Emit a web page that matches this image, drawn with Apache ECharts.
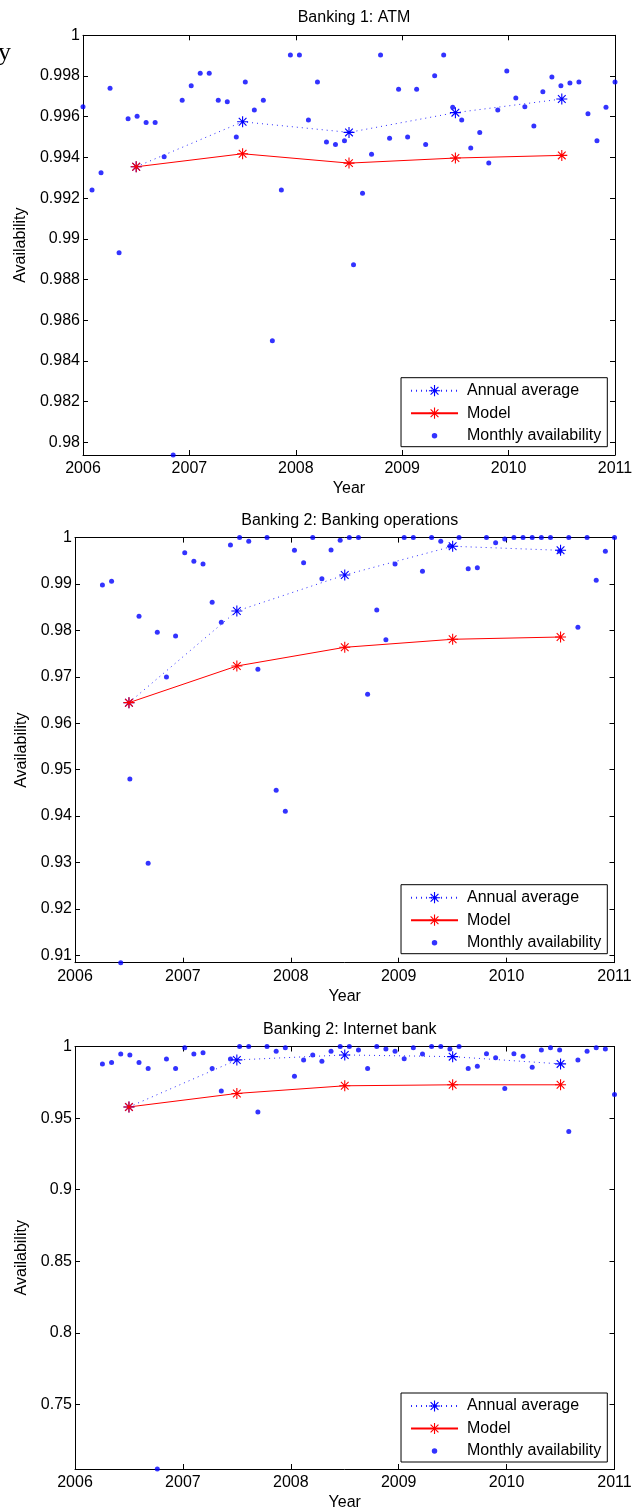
<!DOCTYPE html>
<html>
<head>
<meta charset="utf-8">
<script src="https://cdn.jsdelivr.net/npm/echarts@6/dist/echarts.min.js"></script>
<style>
  html, body { margin: 0; padding: 0; background: #fff; }
  #main { width: 640px; height: 1512px; }
</style>
</head>
<body>
<div id="main"></div>
<script>
// 数据：可用率
const years = [2006, 2007, 2008, 2009, 2010];
const yearTicks = [2006, 2007, 2008, 2009, 2010, 2011];

// Banking 1: ATM
const atmMonthly = [
  0.99649, 0.99240, 0.99325, 0.99740, 0.98932, 0.99590, 0.99602, 0.99572, 0.99572, 0.99403, 0.97938, 0.99681,
  0.99752, 0.99813, 0.99813, 0.99681, 0.99674, 0.99500, 0.99771, 0.99633, 0.99681, 0.98499, 0.99240, 0.99903,
  0.99903, 0.99584, 0.99771, 0.99476, 0.99464, 0.99482, 0.98873, 0.99224, 0.99415, 0.99903, 0.99494, 0.99735,
  0.99500, 0.99735, 0.99464, 0.99801, 0.99903, 0.99646, 0.99584, 0.99446, 0.99523, 0.99372, 0.99633, 0.99825,
  0.99692, 0.99649, 0.99554, 0.99723, 0.99795, 0.99752, 0.99766, 0.99771, 0.99615, 0.99482, 0.99646, 0.99771
];
const atmAnnual = [0.99354, 0.99575, 0.99523, 0.99620, 0.99687];
const atmModel = [0.99354, 0.99418, 0.99372, 0.99397, 0.99410];
const atmTicks = [0.98, 0.982, 0.984, 0.986, 0.988, 0.99, 0.992, 0.994, 0.996, 0.998, 1];

// Banking 2: Banking operations
const opsMonthly = [
  null, null, null, 0.98979, 0.99058, 0.90840, 0.94799, 0.98304, 0.92982, 0.97959, 0.96996, 0.97880,
  0.99675, 0.99489, 0.99431, 0.98606, 0.98175, 0.99841, 1.0, 0.99920, 0.97162, 1.0, 0.94555, 0.94103,
  0.99726, 0.99459, 1.0, 0.99114, 0.99733, 0.99942, 1.0, 1.0, 0.96624, 0.98440, 0.97800, 0.99431,
  1.0, 1.0, 0.99274, 1.0, 0.99920, 0.99813, 1.0, 0.99330, 0.99351, 1.0, 0.99890, 0.99970,
  1.0, 1.0, 1.0, 1.0, 1.0, 0.99705, 1.0, 0.98067, 1.0, 0.99080, 0.99705, 1.0
];
const opsAnnual = [0.96443, 0.98418, 0.99194, 0.99813, 0.99726];
const opsModel = [0.96443, 0.97233, 0.97636, 0.97809, 0.97858];
const opsTicks = [0.91, 0.92, 0.93, 0.94, 0.95, 0.96, 0.97, 0.98, 0.99, 1];

// Banking 2: Internet bank
const netMonthly = [
  null, null, null, 0.98785, 0.98875, 0.99479, 0.99410, 0.98875, 0.98458, 0.70500, 0.99132, 0.98458,
  0.99917, 0.99479, 0.99569, 0.98458, 0.96889, 0.99132, 1.0, 1.0, 0.95431, 1.0, 0.99667, 0.99917,
  0.97931, 0.99063, 0.99410, 0.98972, 0.99667, 1.0, 1.0, 0.99757, 0.98458, 1.0, 0.99826, 0.99667,
  0.99153, 0.99917, 0.99479, 1.0, 1.0, 0.99826, 1.0, 0.98458, 0.98625, 0.99500, 0.99222, 0.97069,
  0.99500, 0.99319, 0.98556, 0.99757, 0.99917, 0.99757, 0.94063, 0.99063, 0.99667, 0.99917, 0.99826, 0.96653
];
const netAnnual = [0.95778, 0.99063, 0.99410, 0.99292, 0.98785];
const netModel = [0.95778, 0.96722, 0.97257, 0.97326, 0.97326];
const netTicks = [0.75, 0.8, 0.85, 0.9, 0.95, 1];

// 月份位置：2006 到 2011 之间均分 60 个点
const monthX = atmMonthly.map((_, i) => 2006 + i * 5 / 59);

const FONT = '"Liberation Sans", Arial, Helvetica, sans-serif';
// 星号标记 (plus + x)
const STAR = 'path://M9 0H11V20H9Z M0 9H20V11H0Z M2.29 3.71L3.71 2.29L17.71 16.29L16.29 17.71Z M16.29 2.29L17.71 3.71L3.71 17.71L2.29 16.29Z';
// 图例里的小圆点
const DOT_ICON = 'path://M0 0L0 0Z M47 14L47 14Z M20.75 7A2.75 2.75 0 1 0 26.25 7A2.75 2.75 0 1 0 20.75 7Z';

const panels = [
  { title: 'Banking 1: ATM', monthly: atmMonthly, annual: atmAnnual, model: atmModel, ticks: atmTicks,
    left: 83, width: 532, top: 35.3, height: 419.7, titleTop: 5, legendTop: 377.7, yNameGap: 53 },
  { title: 'Banking 2: Banking operations', monthly: opsMonthly, annual: opsAnnual, model: opsModel, ticks: opsTicks,
    left: 75, width: 539.5, top: 537.6, height: 425.1, titleTop: 507.5, legendTop: 884.7, yNameGap: 45 },
  { title: 'Banking 2: Internet bank', monthly: netMonthly, annual: netAnnual, model: netModel, ticks: netTicks,
    left: 75, width: 539.5, top: 1046.5, height: 424.8, titleTop: 1017, legendTop: 1393, yNameGap: 45 }
];

const txt = { color: '#000', fontSize: 16, fontFamily: FONT };
const axisLine = { show: true, onZero: false, lineStyle: { color: '#000', width: 1 } };

const grid = [], xAxis = [], yAxis = [], series = [], title = [], legend = [];

panels.forEach((p, g) => {
  const vals = p.monthly.filter(v => v != null);
  const yMin = Math.min(...vals);

  grid.push({ left: p.left, top: p.top, width: p.width, height: p.height, containLabel: false });

  title.push({
    text: p.title, left: p.left + p.width / 2, top: p.titleTop, textAlign: 'center',
    textStyle: Object.assign({ fontWeight: 'normal' }, txt)
  });

  xAxis.push({
    gridIndex: g, type: 'value', position: 'bottom', min: 2006, max: 2011, interval: 1,
    axisLine: axisLine,
    axisTick: { inside: true, length: 5, lineStyle: { color: '#000' } },
    axisLabel: Object.assign({ margin: 6, formatter: v => String(v) }, txt),
    splitLine: { show: false },
    name: 'Year', nameLocation: 'middle', nameGap: 26, nameTextStyle: txt
  });
  xAxis.push({
    gridIndex: g, type: 'value', position: 'top', min: 2006, max: 2011, interval: 1,
    axisLine: axisLine,
    axisTick: { inside: true, length: 5, lineStyle: { color: '#000' } },
    axisLabel: { show: false },
    splitLine: { show: false }
  });

  yAxis.push({
    gridIndex: g, type: 'value', position: 'left', min: yMin, max: 1,
    axisLine: axisLine,
    axisTick: { inside: true, length: 5, customValues: p.ticks, lineStyle: { color: '#000' } },
    axisLabel: Object.assign({ margin: 3, customValues: p.ticks, formatter: v => String(v) }, txt),
    splitLine: { show: false },
    name: 'Availability', nameLocation: 'middle', nameGap: p.yNameGap, nameTextStyle: txt
  });
  yAxis.push({
    gridIndex: g, type: 'value', position: 'right', min: yMin, max: 1,
    axisLine: axisLine,
    axisTick: { inside: true, length: 5, customValues: p.ticks, lineStyle: { color: '#000' } },
    axisLabel: { show: false },
    splitLine: { show: false }
  });

  series.push({
    name: 'Monthly availability', type: 'scatter', xAxisIndex: 2 * g, yAxisIndex: 2 * g,
    data: p.monthly.map((v, i) => v == null ? null : [monthX[i], v]).filter(d => d),
    symbol: 'circle', symbolSize: 5, itemStyle: { color: '#0000ff' }, clip: false,
    emphasis: { disabled: true }
  });
  series.push({
    name: 'Annual average', type: 'line', xAxisIndex: 2 * g, yAxisIndex: 2 * g,
    data: years.map((y, i) => [y + 0.5, p.annual[i]]),
    symbol: STAR, symbolSize: 11, showAllSymbol: true,
    itemStyle: { color: '#0000ff' },
    lineStyle: { color: '#2a2aff', width: 1, type: [1, 4] },
    emphasis: { disabled: true }
  });
  series.push({
    name: 'Model', type: 'line', xAxisIndex: 2 * g, yAxisIndex: 2 * g,
    data: years.map((y, i) => [y + 0.5, p.model[i]]),
    symbol: STAR, symbolSize: 11, showAllSymbol: true,
    itemStyle: { color: '#ff0000' },
    lineStyle: { color: '#ff0000', width: 1 },
    emphasis: { disabled: true }
  });

  legend.push({
    data: [{ name: 'Annual average' }, { name: 'Model' }, { name: 'Monthly availability', icon: DOT_ICON }],
    orient: 'vertical', align: 'left', right: 32.7, top: p.legendTop,
    itemWidth: 47, itemHeight: 14, itemGap: 6.5,
    padding: [5, 6, 3, 9],
    borderColor: '#000', borderWidth: 1, backgroundColor: '#fff',
    textStyle: Object.assign({ padding: [0, 0, 0, 4] }, txt),
    selectedMode: false
  });
});

const myChart = echarts.init(document.getElementById('main'), null, { renderer: 'canvas' });
myChart.setOption({
  backgroundColor: '#fff',
  animation: false,
  title: title,
  legend: legend,
  grid: grid,
  xAxis: xAxis,
  yAxis: yAxis,
  series: series,
  graphic: [{
    // 左上角被裁掉的正文字母
    type: 'text', left: -2, top: 40, silent: true,
    style: { text: 'y', fill: '#000', font: '26px "Liberation Serif", "DejaVu Serif", serif' }
  }]
});
</script>
</body>
</html>
